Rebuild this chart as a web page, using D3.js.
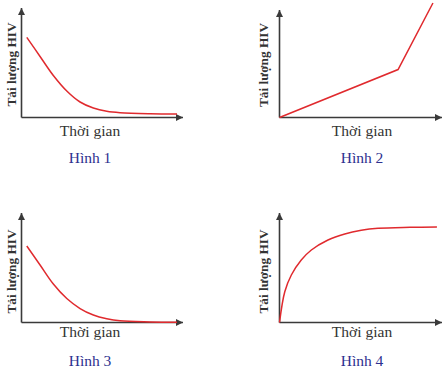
<!DOCTYPE html>
<html>
<head>
<meta charset="utf-8">
<script src="https://cdn.jsdelivr.net/npm/d3@7"></script>
<style>
  html, body { margin: 0; padding: 0; background: #ffffff; }
  svg { display: block; }
</style>
</head>
<body>
<svg id="chart" width="445" height="369"></svg>
<script>
// ---- data (abstract units: time 0..10, HIV load 0..10) ----
const xLabel = "Thời gian";
const yLabel = "Tải lượng HIV";
const figureTitles = ["Hình 1", "Hình 2", "Hình 3", "Hình 4"];

const time1 = [0.33, 1.16, 1.99, 2.83, 3.66, 4.49, 5.33, 6.16, 8.03, 9.72];
const load1 = [7.29, 5.55, 3.82, 2.41, 1.41, 0.86, 0.56, 0.43, 0.34, 0.32];

const time2 = [0, 7.41, 9.59];
const load2 = [0, 4.36, 10.41];

const time3 = [0.33, 1.16, 1.99, 2.83, 3.66, 4.49, 5.33, 6.16, 8.03, 9.72];
const load3 = [6.95, 5.23, 3.50, 2.18, 1.27, 0.68, 0.34, 0.15, 0.05, 0.02];

const time4 = [0, 0.33, 0.74, 1.36, 1.99, 3.03, 4.08, 5.11, 6.16, 8.16, 9.84];
const load4 = [0, 2.80, 4.32, 5.68, 6.59, 7.50, 8.05, 8.38, 8.56, 8.65, 8.68];

const seriesTimes = [time1, time2, time3, time4];
const seriesLoads = [load1, load2, load3, load4];
const seriesCurved = [true, false, true, true];

// ---- layout ----
const panels = [
  { x0: 21.5,  y0: 117.5, xEnd: 183, yTop: 8,   xlabY: 136, titleY: 163, xlabX: 90,  ylabX: 15.5,  ylabY: 64.5 },
  { x0: 279.5, y0: 117.5, xEnd: 442, yTop: 10,  xlabY: 136, titleY: 163, xlabX: 362, ylabX: 267.5, ylabY: 65 },
  { x0: 21.5,  y0: 322.5, xEnd: 183, yTop: 213, xlabY: 337, titleY: 366, xlabX: 90,  ylabX: 15.5,  ylabY: 271.5 },
  { x0: 279.5, y0: 322.5, xEnd: 442, yTop: 213, xlabY: 337, titleY: 366, xlabX: 362, ylabX: 267.5, ylabY: 271.5 }
];

const svg = d3.select("#chart");
const axisColor = "#3a3a3a";
const lineColor = "#e02a2e";
const font = "'Liberation Serif', 'Times New Roman', serif";

svg.append("defs").append("marker")
  .attr("id", "arrow")
  .attr("viewBox", "0 0 10 10")
  .attr("refX", 10).attr("refY", 5)
  .attr("markerWidth", 7).attr("markerHeight", 7)
  .attr("markerUnits", "userSpaceOnUse")
  .attr("orient", "auto")
  .append("path")
  .attr("d", "M0,0 L10,5 L0,10 Z")
  .attr("fill", axisColor);

panels.forEach((p, i) => {
  const x = d3.scaleLinear().domain([0, 10]).range([p.x0, p.x0 + 160]);
  const y = d3.scaleLinear().domain([0, 10]).range([p.y0, p.y0 - 110]);
  const g = svg.append("g");

  // axes with arrows
  g.append("line")
    .attr("x1", p.x0).attr("y1", p.y0).attr("x2", p.xEnd).attr("y2", p.y0)
    .attr("stroke", axisColor).attr("stroke-width", 1.6)
    .attr("marker-end", "url(#arrow)");
  g.append("line")
    .attr("x1", p.x0).attr("y1", p.y0).attr("x2", p.x0).attr("y2", p.yTop)
    .attr("stroke", axisColor).attr("stroke-width", 1.6)
    .attr("marker-end", "url(#arrow)");

  const pts = seriesTimes[i].map((t, k) => [t, seriesLoads[i][k]]);
  const line = d3.line()
    .x(d => x(d[0])).y(d => y(d[1]))
    .curve(seriesCurved[i] ? d3.curveCatmullRom.alpha(0.5) : d3.curveLinear);
  g.append("path")
    .attr("d", line(pts))
    .attr("fill", "none")
    .attr("stroke", lineColor)
    .attr("stroke-width", 1.5);

  g.append("text")
    .attr("x", p.xlabX).attr("y", p.xlabY)
    .attr("text-anchor", "middle")
    .attr("font-family", font).attr("font-size", 15.5)
    .attr("fill", "#333333")
    .text(xLabel);

  g.append("text")
    .attr("transform", `translate(${p.ylabX},${p.ylabY}) rotate(-90)`)
    .attr("text-anchor", "middle")
    .attr("font-family", font).attr("font-size", 13.3)
    .attr("font-weight", "bold")
    .attr("fill", "#333333")
    .text(yLabel);

  g.append("text")
    .attr("x", p.xlabX).attr("y", p.titleY)
    .attr("text-anchor", "middle")
    .attr("font-family", font).attr("font-size", 15.5)
    .attr("fill", "#2e3190")
    .text(figureTitles[i]);
});
</script>
</body>
</html>
